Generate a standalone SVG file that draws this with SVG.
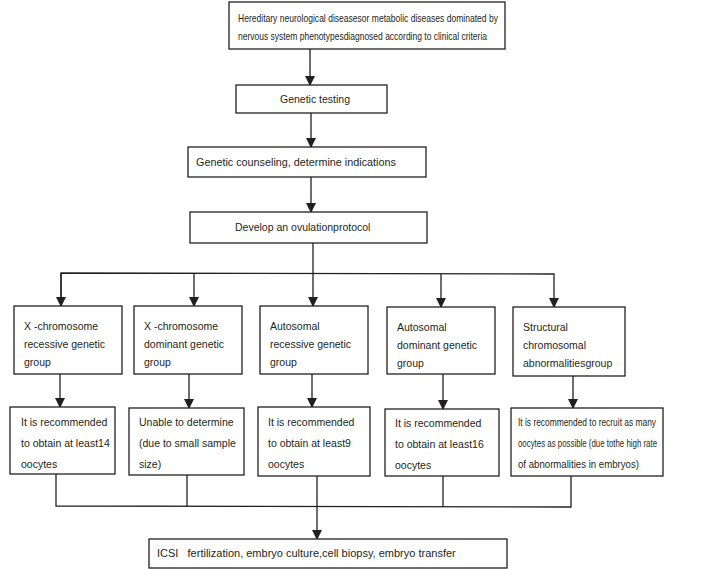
<svg xmlns="http://www.w3.org/2000/svg" width="709" height="569" viewBox="0 0 709 569">
<defs>
<style>
.box{fill:#fff;stroke:#231f20;stroke-width:1.3}
.t{font-family:"Liberation Sans",Arial,sans-serif;font-size:10.5px;fill:#231f20;white-space:pre}
.s{font-size:10.2px}
.ln{fill:none;stroke:#231f20;stroke-width:1.3}
</style>
<marker id="ah" markerWidth="10" markerHeight="10" refX="8" refY="4.5" orient="auto" markerUnits="userSpaceOnUse" viewBox="0 0 9 9">
<path d="M0,0 L9,4.5 L0,9 Z" fill="#231f20"/>
</marker>
</defs>
<rect width="709" height="569" fill="#fff"/>
<g id="connectors">
<line class="ln" x1="310" y1="49" x2="310" y2="85" marker-end="url(#ah)"/>
<line class="ln" x1="311" y1="113" x2="311" y2="147" marker-end="url(#ah)"/>
<line class="ln" x1="311" y1="177" x2="311" y2="212" marker-end="url(#ah)"/>
<line class="ln" x1="313" y1="243" x2="313" y2="306" marker-end="url(#ah)"/>
<polyline class="ln" points="61,306 61,273 554,274 554,307" marker-end="url(#ah)"/>
<line class="ln" x1="61" y1="273" x2="61" y2="306" marker-end="url(#ah)"/>
<line class="ln" x1="194" y1="273" x2="194" y2="306" marker-end="url(#ah)"/>
<line class="ln" x1="441" y1="274" x2="441" y2="307" marker-end="url(#ah)"/>
<line class="ln" x1="60" y1="374" x2="60" y2="407" marker-end="url(#ah)"/>
<line class="ln" x1="189" y1="374" x2="189" y2="408" marker-end="url(#ah)"/>
<line class="ln" x1="312" y1="374" x2="312" y2="407" marker-end="url(#ah)"/>
<line class="ln" x1="443" y1="374" x2="443" y2="409" marker-end="url(#ah)"/>
<line class="ln" x1="573" y1="376" x2="573" y2="408" marker-end="url(#ah)"/>
<polyline class="ln" points="56,474 56,506 571,507 571,476"/>
<line class="ln" x1="187" y1="475" x2="187" y2="506"/>
<line class="ln" x1="443" y1="476" x2="443" y2="507"/>
<line class="ln" x1="317" y1="476" x2="317" y2="539" marker-end="url(#ah)"/>
</g>
<g id="n-top">
<rect class="box" x="229" y="2" width="276" height="47"/>
<text class="t s" x="238" y="22" textLength="260" lengthAdjust="spacingAndGlyphs">Hereditary neurological diseasesor metabolic diseases dominated by</text>
<text class="t s" x="238" y="40" textLength="249" lengthAdjust="spacingAndGlyphs">nervous system phenotypesdiagnosed according to clinical criteria</text>
</g>
<g id="n-testing">
<rect class="box" x="236" y="85" width="151" height="28"/>
<text class="t" x="280" y="103">Genetic testing</text>
</g>
<g id="n-counseling">
<rect class="box" x="188" y="147" width="238" height="30"/>
<text class="t" x="196" y="166" style="font-size:10.8px">Genetic counseling, determine indications</text>
</g>
<g id="n-develop">
<rect class="box" x="190" y="212" width="237" height="31"/>
<text class="t" x="235" y="231">Develop an ovulationprotocol</text>
</g>
<g id="n-g1">
<rect class="box" x="14" y="306" width="108" height="68"/>
<text class="t" x="24" y="330">X -chromosome</text>
<text class="t" x="24" y="348">recessive genetic</text>
<text class="t" x="24" y="366">group</text>
</g>
<g id="n-g2">
<rect class="box" x="134" y="306" width="108" height="68"/>
<text class="t" x="144" y="330">X -chromosome</text>
<text class="t" x="144" y="348">dominant genetic</text>
<text class="t" x="144" y="366">group</text>
</g>
<g id="n-g3">
<rect class="box" x="260" y="306" width="108" height="68"/>
<text class="t" x="270" y="330">Autosomal</text>
<text class="t" x="270" y="348">recessive genetic</text>
<text class="t" x="270" y="366">group</text>
</g>
<g id="n-g4">
<rect class="box" x="387" y="307" width="108" height="67"/>
<text class="t" x="397" y="331">Autosomal</text>
<text class="t" x="397" y="349">dominant genetic</text>
<text class="t" x="397" y="367">group</text>
</g>
<g id="n-g5">
<rect class="box" x="513" y="307" width="112" height="69"/>
<text class="t" x="523" y="331">Structural</text>
<text class="t" x="523" y="349">chromosomal</text>
<text class="t" x="523" y="367">abnormalitiesgroup</text>
</g>
<g id="n-r1">
<rect class="box" x="10" y="407" width="105" height="67"/>
<text class="t" x="21" y="426">It is recommended</text>
<text class="t" x="21" y="447">to obtain at least14</text>
<text class="t" x="21" y="468">oocytes</text>
</g>
<g id="n-r2">
<rect class="box" x="129" y="408" width="115" height="67"/>
<text class="t" x="139" y="426">Unable to determine</text>
<text class="t" x="139" y="447">(due to small sample</text>
<text class="t" x="139" y="468">size)</text>
</g>
<g id="n-r3">
<rect class="box" x="258" y="407" width="112" height="69"/>
<text class="t" x="268" y="426">It is recommended</text>
<text class="t" x="268" y="447">to obtain at least9</text>
<text class="t" x="268" y="468">oocytes</text>
</g>
<g id="n-r4">
<rect class="box" x="385" y="409" width="114" height="67"/>
<text class="t" x="395" y="427">It is recommended</text>
<text class="t" x="395" y="448">to obtain at least16</text>
<text class="t" x="395" y="469">oocytes</text>
</g>
<g id="n-r5">
<rect class="box" x="511" y="408" width="152" height="68"/>
<text class="t s" x="518" y="426" textLength="138" lengthAdjust="spacingAndGlyphs">It is recommended to recruit as many</text>
<text class="t s" x="518" y="447" textLength="139" lengthAdjust="spacingAndGlyphs">oocytes as possible (due tothe high rate</text>
<text class="t s" x="518" y="468" textLength="121" lengthAdjust="spacingAndGlyphs">of abnormalities in embryos)</text>
</g>
<g id="n-final">
<rect class="box" x="149" y="539" width="358" height="29"/>
<text class="t" x="157" y="557" style="font-size:11px">ICSI   fertilization, embryo culture,cell biopsy, embryo transfer</text>
</g>
</svg>
